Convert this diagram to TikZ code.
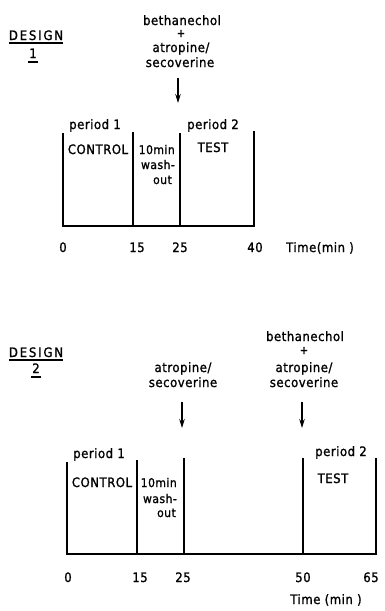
\documentclass[tikz,border=0pt]{standalone}
\usepackage{fontspec}
\setmainfont{DejaVu Sans Condensed}[LetterSpace=4,FakeBold=1.2]
\usetikzlibrary{arrows.meta,calc}
\begin{document}
\begin{tikzpicture}[x=1pt,y=-1pt,
  lbl/.style={inner sep=0pt,anchor=base,font=\fontsize{13}{15}\selectfont},
  lble/.style={lbl,anchor=base east,font=\fontsize{12}{14}\selectfont},
  plus/.style={lbl,font=\fontsize{11}{12}\selectfont\addfontfeatures{FakeBold=2.5}},
  hd/.style={lbl,font=\fontsize{13}{15}\selectfont\addfontfeatures{LetterSpace=14}},
  bar/.style={line width=1.2pt},
  uline/.style={line width=1.1pt},
  arr/.style={line width=1.1pt,-{Stealth[length=9pt,width=5.5pt]}}]
\useasboundingbox (0,0) rectangle (384,611);
% ===== DESIGN 1 =====
\node[hd] (d1) at (36,40) {DESIGN};
\draw[uline] ($(d1.base west)+(0,3)$) -- ($(d1.base east)+(0,3)$);
\node[lbl] (d1n) at (33,58) {1};
\draw[uline] ($(d1n.base west)+(-1,4)$) -- ($(d1n.base east)+(1,4)$);
\node[lbl] (b1) at (182,25) {bethanechol};
\node[plus] (p1) at (181,37) {+};
\node[lbl] (a1) at (181,52) {atropine/};
\node[lbl] (s1) at (180,67) {secoverine};
\coordinate (t1top) at (178,78);
\coordinate (t1bot) at (178,103);
\draw[arr] (t1top) -- (t1bot);
% timeline 1
\coordinate (A0) at (63,226);
\coordinate (A15) at (133,226);
\coordinate (A25) at (180,226);
\coordinate (A40) at (254,226);
\coordinate (A0t) at (63,133);
\coordinate (A15t) at (133,132);
\coordinate (A25t) at (180,133);
\coordinate (A40t) at (254,131);
\draw[bar] (A0t) -- (A0) -- (A40) -- (A40t);
\draw[bar] (A15t) -- (A15);
\draw[bar] (A25t) -- (A25);
\node[lbl] (per1a) at (95,129) {period 1};
\node[lbl] (con1) at (98,154) {CONTROL};
\node[lble] (m1a) at (175,154) {10min};
\node[lble] (m1b) at (175,169) {wash-};
\node[lble] (m1c) at (172,184) {out};
\node[lbl] (per2a) at (213,129) {period 2};
\node[lbl] (test1) at (213,152) {TEST};
\node[lbl] (x10) at (63,252) {0};
\node[lbl] (x115) at (137,252) {15};
\node[lbl] (x125) at (180,252) {25};
\node[lbl] (x140) at (255,252) {40};
\node[lbl] (time1) at (320,252) {Time(min )};
% ===== DESIGN 2 =====
\node[hd] (d2) at (36,357) {DESIGN};
\draw[uline] ($(d2.base west)+(0,3)$) -- ($(d2.base east)+(0,3)$);
\node[lbl] (d2n) at (36,373) {2};
\draw[uline] ($(d2n.base west)+(-1,4)$) -- ($(d2n.base east)+(1,4)$);
\node[lbl] (a2l) at (183,372) {atropine/};
\node[lbl] (s2l) at (183,387) {secoverine};
\node[lbl] (b2) at (305,341) {bethanechol};
\node[plus] (p2) at (304,354) {+};
\node[lbl] (a2r) at (304,372) {atropine/};
\node[lbl] (s2r) at (304,387) {secoverine};
\coordinate (t2top) at (182,402);
\coordinate (t2bot) at (182,428);
\coordinate (t3top) at (302,402);
\coordinate (t3bot) at (302,428);
\draw[arr] (t2top) -- (t2bot);
\draw[arr] (t3top) -- (t3bot);
% timeline 2
\coordinate (B0) at (67,554);
\coordinate (B15) at (137,554);
\coordinate (B25) at (184,554);
\coordinate (B50) at (303,554);
\coordinate (B65) at (376,554);
\coordinate (B0t) at (67,462);
\coordinate (B15t) at (137,460);
\coordinate (B25t) at (184,458);
\coordinate (B50t) at (303,458);
\coordinate (B65t) at (376,458);
\draw[bar] (B0t) -- (B0) -- (B65) -- (B65t);
\draw[bar] (B15t) -- (B15);
\draw[bar] (B25t) -- (B25);
\draw[bar] (B50t) -- (B50);
\node[lbl] (per1b) at (99,458) {period 1};
\node[lbl] (con2) at (102,487) {CONTROL};
\node[lble] (m2a) at (177,487) {10min};
\node[lble] (m2b) at (177,503) {wash-};
\node[lble] (m2c) at (176,517) {out};
\node[lbl] (per2b) at (341,456) {period 2};
\node[lbl] (test2) at (333,483) {TEST};
\node[lbl] (x20) at (68,582) {0};
\node[lbl] (x215) at (140,582) {15};
\node[lbl] (x225) at (183,582) {25};
\node[lbl] (x250) at (303,582) {50};
\node[lbl] (x265) at (371,582) {65};
\node[lbl] (time2) at (326,604) {Time (min )};
\end{tikzpicture}
\end{document}
